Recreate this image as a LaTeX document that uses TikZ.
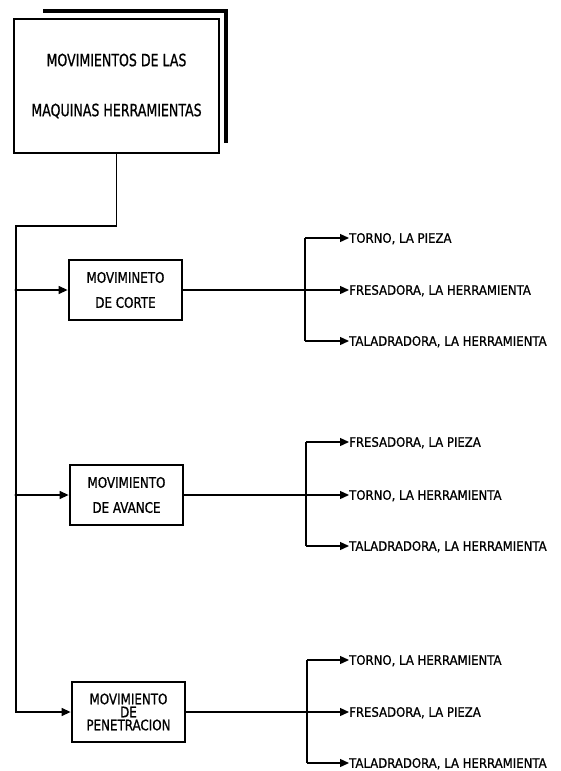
\documentclass[tikz,border=0pt]{standalone}
\usepackage{fontspec}
\usetikzlibrary{arrows.meta}
\newfontfamily\ttlfont[FakeStretch=0.74,FakeBold=0.8]{DejaVu Sans}
\newfontfamily\boxfont[FakeStretch=0.82,FakeBold=0.8]{DejaVu Sans}
\newfontfamily\lblfont[FakeStretch=0.9,FakeBold=0.8]{DejaVu Sans}
\begin{document}
\begin{tikzpicture}[x=1pt,y=-1pt,
  conn/.style={line width=1.3pt},
  arr/.style={conn,-{Triangle[length=9pt,width=8pt]}},
  mbox/.style={draw,line width=2.8pt,rectangle,inner sep=0pt,align=center},
  sbox/.style={mbox,minimum width=113pt,minimum height=60pt,font=\fontsize{14.5}{25}\boxfont},
  lbl/.style={anchor=west,inner sep=0pt,text height=9.5pt,text depth=0pt,font=\fontsize{13}{14}\lblfont},
  jdot/.style={circle,fill,inner sep=0pt,minimum size=3.2pt}
]
\useasboundingbox (0,0) rectangle (561,771);
\fill[white] (0,0) rectangle (561,771);

% title box with shadow
\draw[line width=4pt] (43,11) -- (226,11) -- (226,143);
\node[mbox,fill=white,minimum width=205pt,minimum height=134pt,font=\fontsize{17}{50}\ttlfont] (main) at (116.5,86)
  {MOVIMIENTOS DE LAS\\MAQUINAS HERRAMIENTAS};

% motion boxes
\node[sbox] (b1) at (125.5,290) {MOVIMINETO\\DE CORTE};
\node[sbox] (b2) at (126.5,495) {MOVIMIENTO\\DE AVANCE};
\node[sbox,font=\fontsize{14.5}{13}\boxfont] (b3) at (128.5,712) {MOVIMIENTO\\DE\\PENETRACION};

% left trunk
\coordinate (c0) at (16,226);
\coordinate (j1) at (16,290);
\coordinate (j2) at (16,495);
\draw[arr] (main.south) |- (c0) |- (b3.west);
\draw[arr] (j1) -- (b1.west);
\draw[arr] (j2) -- (b2.west);
\node[jdot] at (j1) {};
\node[jdot] at (j2) {};

% group 1
\coordinate (r1a) at (305,238);
\coordinate (r1b) at (305,290);
\coordinate (r1c) at (305,341);
\node[lbl] (l1a) at (349,238) {TORNO, LA PIEZA};
\node[lbl] (l1b) at (349,290) {FRESADORA, LA HERRAMIENTA};
\node[lbl] (l1c) at (349,341) {TALADRADORA, LA HERRAMIENTA};
\draw[conn] (b1.east) -- (r1b);
\draw[conn] (r1a) -- (r1c);
\draw[arr] (r1a) -- (l1a.west);
\draw[arr] (r1b) -- (l1b.west);
\draw[arr] (r1c) -- (l1c.west);
\node[jdot] at (r1b) {};

% group 2
\coordinate (r2a) at (306,442);
\coordinate (r2b) at (306,495);
\coordinate (r2c) at (306,546);
\node[lbl] (l2a) at (349,442) {FRESADORA, LA PIEZA};
\node[lbl] (l2b) at (349,495) {TORNO, LA HERRAMIENTA};
\node[lbl] (l2c) at (349,546) {TALADRADORA, LA HERRAMIENTA};
\draw[conn] (b2.east) -- (r2b);
\draw[conn] (r2a) -- (r2c);
\draw[arr] (r2a) -- (l2a.west);
\draw[arr] (r2b) -- (l2b.west);
\draw[arr] (r2c) -- (l2c.west);
\node[jdot] at (r2b) {};

% group 3
\coordinate (r3a) at (307,660);
\coordinate (r3b) at (307,712);
\coordinate (r3c) at (307,763);
\node[lbl] (l3a) at (349,660) {TORNO, LA HERRAMIENTA};
\node[lbl] (l3b) at (349,712) {FRESADORA, LA PIEZA};
\node[lbl] (l3c) at (349,763) {TALADRADORA, LA HERRAMIENTA};
\draw[conn] (b3.east) -- (r3b);
\draw[conn] (r3a) -- (r3c);
\draw[arr] (r3a) -- (l3a.west);
\draw[arr] (r3b) -- (l3b.west);
\draw[arr] (r3c) -- (l3c.west);
\node[jdot] at (r3b) {};
\end{tikzpicture}
\end{document}
